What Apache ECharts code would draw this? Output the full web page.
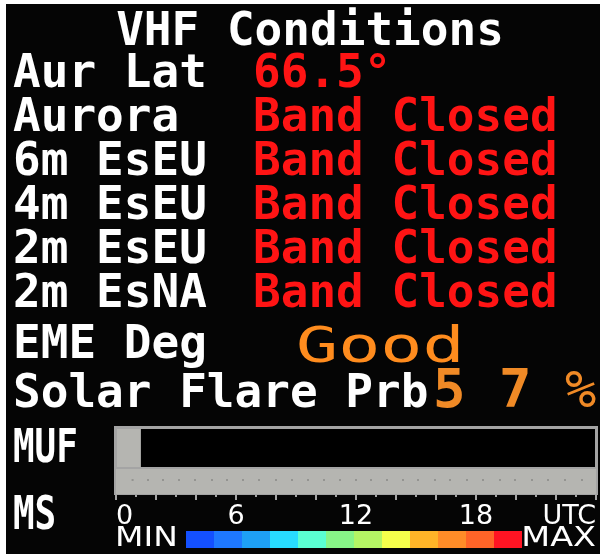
<!DOCTYPE html>
<html>
<head>
<meta charset="utf-8">
<script src="https://cdn.jsdelivr.net/npm/echarts@6/dist/echarts.min.js"></script>
<style>
html,body{margin:0;padding:0;background:#fff;}
#bg{position:absolute;left:6px;top:4px;width:594px;height:550px;background:#050505;}
#chart{position:absolute;left:0;top:0;width:602px;height:556px;}
</style>
</head>
<body>
<div id="bg"></div>
<div id="chart"></div>
<script>
// ---- data ----
const titleText = 'VHF Conditions';
const rowLabels = ['Aur Lat', 'Aurora', '6m EsEU', '4m EsEU', '2m EsEU', '2m EsNA'];
const rowValues = ['66.5°', 'Band Closed', 'Band Closed', 'Band Closed', 'Band Closed', 'Band Closed'];
const emeLabel = 'EME Deg';
const emeValue = 'Good';
const flareLabel = 'Solar Flare Prb';
const flareValue = 57;
const mufLabel = 'MUF';
const msLabel = 'MS';
const mufHours = [1.2];
const msDots = [0.83, 1.6, 2.35, 3.15, 3.95, 4.8, 5.55, 6.35, 7.15, 8.0, 8.8, 9.6, 10.4, 11.2, 12.0, 12.75, 13.55, 14.35, 15.1, 15.95, 16.7, 17.55, 18.35, 19.2, 19.95, 20.8, 21.6, 22.45, 23.3];
const hourMin = 0, hourMax = 24, hourStep = 2, labelStep = 6;
const scaleColors = ['#1450ff', '#1e78ff', '#1ea0f5', '#28dcff', '#5affd2', '#87f587', '#b4f564', '#f5ff4b', '#ffb428', '#ff8c28', '#ff6428', '#ff1423'];
const scaleValues = [1, 1, 1, 1, 1, 1, 1, 1, 1, 1, 1, 1];
const scaleLabels = ['MIN', 'MAX'];

// ---- layout / styles ----
const MONO = '"DejaVu Sans Mono"';
const bigFont = 'bold 46px ' + MONO;
const rowTop = 74, rowPitch = 44;
const labelX = 13, valueX = 253;
const WHITE = '#ffffff', RED = '#ff1414', ORANGE = '#ff8c1e', FLARE = '#f08a26';
const GRAY = '#b5b5b1', BORDER = '#a4a4a4';

const graphics = [];
function txt(text, x, y, fill, font, opts) {
  opts = opts || {};
  graphics.push({
    type: 'text', x: x, y: y, scaleX: opts.sx || 1, z: 10,
    style: { text: text, fill: fill, font: font, align: opts.align || 'left', verticalAlign: 'middle' }
  });
}
// title
txt(titleText, 310, 33, WHITE, bigFont, { align: 'center' });
rowLabels.forEach((l, i) => {
  txt(l, labelX, rowTop + 1 + i * rowPitch, WHITE, bigFont);
  txt(rowValues[i], valueX, rowTop + 1 + i * rowPitch, RED, bigFont);
});
txt(emeLabel, labelX, 346, WHITE, bigFont);
txt(emeValue, 296, 349, ORANGE, 'normal 50px ' + MONO, { sx: 1.4 });
txt(flareLabel, labelX, 395, WHITE, bigFont);
graphics.push({
  type: 'text', x: 433, y: 393, z: 10,
  style: {
    text: '{d|' + String(flareValue)[0] + '}{d|' + String(flareValue)[1] + '}{p|%}',
    verticalAlign: 'middle', align: 'left',
    rich: {
      d: { font: 'bold 54px ' + MONO, fill: FLARE, width: 66 },
      p: { font: 'normal 52px ' + MONO, fill: FLARE }
    }
  }
});
txt(mufLabel, labelX, 450, WHITE, bigFont, { sx: 0.78 });
txt(msLabel, labelX, 517, WHITE, bigFont, { sx: 0.78 });
// MIN / MAX
txt(scaleLabels[0], 115, 539, WHITE, 'normal 27px "DejaVu Sans"', { sx: 1.22 });
txt(scaleLabels[1], 596, 539, WHITE, 'normal 27px "DejaVu Sans"', { align: 'right', sx: 1.24 });
// box frames
graphics.push({ type: 'rect', z: 0, shape: { x: 114, y: 426, width: 484, height: 69 }, style: { fill: BORDER } });
graphics.push({ type: 'rect', z: 1, shape: { x: 117, y: 429, width: 478, height: 38 }, style: { fill: '#000' } });
graphics.push({ type: 'rect', z: 1, shape: { x: 116, y: 469, width: 480, height: 25 }, style: { fill: GRAY } });

const chart = echarts.init(document.getElementById('chart'), null, { renderer: 'canvas' });
chart.setOption({
  backgroundColor: 'transparent',
  animation: false,
  graphic: { elements: graphics },
  grid: [
    { left: 117, top: 429, width: 478, height: 38 },
    { left: 116, top: 469, width: 480, height: 25 },
    { left: 186, top: 531, width: 336, height: 17 }
  ],
  xAxis: [
    { gridIndex: 0, type: 'value', min: hourMin, max: hourMax, show: false },
    {
      gridIndex: 1, type: 'value', min: hourMin, max: hourMax, interval: hourStep,
      axisLine: { show: false },
      splitLine: { show: false },
      axisTick: { show: true, length: 6, lineStyle: { color: BORDER, width: 2 } },
      minorTick: { show: true, splitNumber: 2, length: 3, lineStyle: { color: BORDER, width: 2 } },
      axisLabel: {
        show: true, margin: 9, color: WHITE, fontFamily: 'DejaVu Sans', fontSize: 27,
        alignMinLabel: 'left', alignMaxLabel: 'right',
        formatter: v => (v % labelStep === 0 ? (v === hourMax ? 'UTC' : String(v)) : '')
      }
    },
    { gridIndex: 2, type: 'category', data: scaleColors.map((c, i) => String(i)), show: false }
  ],
  yAxis: [
    { gridIndex: 0, type: 'category', data: [mufLabel], show: false },
    { gridIndex: 1, type: 'value', min: 0, max: 1, show: false },
    { gridIndex: 2, type: 'value', min: 0, max: 1, show: false }
  ],
  series: [
    {
      type: 'bar', xAxisIndex: 0, yAxisIndex: 0, data: mufHours, barWidth: '100%',
      itemStyle: { color: GRAY }, silent: true
    },
    {
      type: 'scatter', xAxisIndex: 1, yAxisIndex: 1, data: msDots.map(x => [x, 0.56]),
      symbol: 'rect', symbolSize: 2, itemStyle: { color: '#8c8c8a' }, silent: true
    },
    {
      type: 'bar', xAxisIndex: 2, yAxisIndex: 2, barWidth: '100%', silent: true,
      data: scaleValues.map((v, i) => ({ value: v, itemStyle: { color: scaleColors[i] } }))
    }
  ]
});
</script>
</body>
</html>
